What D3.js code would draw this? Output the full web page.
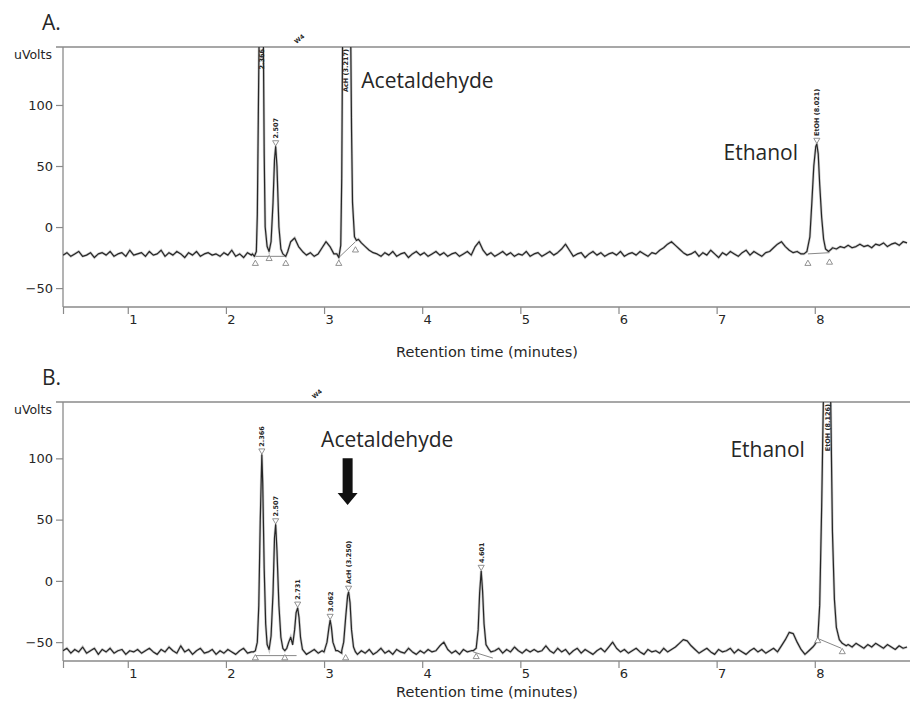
<!DOCTYPE html>
<html>
<head>
<meta charset="utf-8">
<script src="https://cdn.jsdelivr.net/npm/d3@7/dist/d3.min.js"></script>
<style>
  body { margin: 0; background: #fff; }
</style>
</head>
<body>
<svg id="chart"></svg>
<script>
// sampled detector signal: start time + step (min), values in uVolts
const T0 = 0.34
const STEP = 0.04
const X_TICKS = [1, 2, 3, 4, 5, 6, 7, 8]
const Y_TICKS = [-50, 0, 50, 100]

// ---- panel A ----
const baseA = [
  -23,-21,-24,-22,-20,-24,-23,-21,-25,-22,-21,-23,-20,-24,-22,-21,-24,-19,-23,-22,
  -21,-24,-20,-23,-22,-19,-24,-21,-23,-20,-22,-25,-21,-23,-20,-24,-22,-21,-23,-22,
  -24,-21,-23,-19,-24,-22,-25,-21,-23,-22,-22,-22,-22,-22,-22,-22,-22,-22,-12,-9,
  -16,-20,-23,-21,-24,-22,-17,-12,-16,-22,-24,-23,-23,-23,-23,-23,-13,-16,-19,-21,
  -22,-24,-21,-23,-20,-24,-22,-21,-25,-22,-20,-23,-21,-24,-22,-20,-23,-21,-24,-22,
  -21,-24,-22,-20,-23,-16,-12,-19,-23,-21,-24,-22,-20,-23,-21,-24,-22,-23,-20,-24,
  -22,-21,-24,-22,-20,-23,-21,-18,-14,-19,-24,-22,-21,-25,-22,-20,-23,-21,-24,-22,
  -21,-23,-20,-24,-22,-21,-23,-20,-22,-24,-21,-22,-19,-17,-14,-12,-15,-18,-21,-23,
  -22,-20,-24,-21,-23,-19,-22,-25,-21,-23,-20,-22,-24,-21,-19,-23,-20,-22,-24,-21,
  -20,-17,-14,-12,-16,-19,-21,-20,-22,-21,-21,-21,-21,-21,-21,-21,-17,-18,-16,-17,
  -15,-17,-16,-14,-16,-15,-17,-14,-15,-13,-16,-14,-13,-15,-12,-13
]
// peak regions, [time, uVolts]; values above the scale are cut at the frame
const peaksA = [
  [[2.27,-22],[2.29,-24],[2.31,-20],[2.32,10],[2.33,90],[2.34,170],[2.38,170],[2.39,60],[2.40,0],
   [2.42,-16],[2.44,-20],[2.46,-12],[2.48,20],[2.495,55],[2.507,66],[2.52,50],[2.54,0],[2.56,-18],
   [2.58,-22],[2.61,-24],[2.63,-20]],
  [[3.13,-22],[3.15,-25],[3.17,-15],[3.18,40],[3.19,170],[3.27,170],[3.28,80],[3.29,20],[3.31,-8],
   [3.33,-11],[3.35,-10]],
  [[7.89,-22],[7.92,-20],[7.95,-8],[7.97,20],[7.99,50],[8.01,66],[8.021,68],[8.035,60],[8.05,35],
   [8.07,8],[8.09,-10],[8.11,-18],[8.14,-20],[8.17,-18]]
]
// peak labels: time, apex value (null = off scale), text
const labelsA = [
  [2.366, null, '2.366'],
  [2.507, 66, '2.507'],
  [3.217, null, 'AcH (3.217)'],
  [8.021, 68, 'EtOH (8.021)']
]
const startEndA = [[2.30,-30],[2.44,-26],[2.61,-30],[3.15,-30],[3.32,-19],[7.93,-30],[8.15,-29]]
const baselinesA = [
  [[2.30,-24],[2.61,-24]],
  [[3.15,-25],[3.32,-12]],
  [[7.93,-22],[8.15,-21]]
]
const notesA = [['Acetaldehyde', 3.38, 114], ['Ethanol', 7.07, 55]]
const eventA = [2.72, 'W4']

// ---- panel B ----
const baseB = [
  -57,-55,-59,-56,-58,-54,-59,-57,-55,-60,-56,-58,-55,-59,-57,-56,-60,-57,-58,-56,
  -59,-57,-55,-58,-60,-56,-58,-54,-57,-59,-53,-58,-56,-60,-57,-55,-59,-58,-56,-60,
  -57,-59,-56,-58,-60,-57,-55,-59,-58,-60,-58,-58,-58,-58,-58,-58,-58,-58,-58,-58,
  -58,-57,-60,-58,-56,-59,-57,-60,-58,-58,-57,-59,-58,-58,-58,-60,-57,-59,-56,-60,
  -58,-55,-59,-57,-60,-56,-58,-59,-55,-58,-60,-57,-59,-56,-58,-57,-53,-50,-56,-59,
  -57,-60,-56,-58,-57,-58,-58,-58,-58,-58,-57,-55,-59,-56,-58,-54,-57,-59,-56,-58,
  -56,-58,-57,-53,-57,-59,-55,-58,-56,-60,-57,-55,-59,-56,-58,-60,-57,-55,-58,-54,
  -50,-55,-58,-56,-59,-57,-55,-58,-60,-56,-58,-57,-59,-55,-58,-56,-54,-51,-48,-49,
  -53,-56,-59,-57,-55,-58,-60,-56,-58,-57,-55,-59,-56,-58,-60,-57,-55,-58,-56,-59,
  -57,-55,-58,-53,-48,-42,-43,-50,-56,-60,-57,-54,-52,-52,-52,-52,-52,-52,-52,-52,
  -52,-54,-51,-53,-55,-52,-54,-51,-53,-55,-52,-54,-56,-53,-55,-54
]
const peaksB = [
  [[2.28,-58],[2.30,-57],[2.32,-50],[2.335,-20],[2.35,50],[2.366,103],[2.375,80],[2.39,10],
   [2.405,-35],[2.42,-52],[2.44,-56],[2.46,-45],[2.48,-10],[2.495,35],[2.507,46],[2.52,25],
   [2.54,-20],[2.56,-46],[2.58,-55],[2.60,-57]],
  [[2.62,-55],[2.64,-50],[2.66,-46],[2.68,-52],[2.70,-40],[2.715,-26],[2.731,-22],[2.745,-30],
   [2.76,-46],[2.78,-56]],
  [[3.00,-58],[3.03,-50],[3.05,-38],[3.062,-32],[3.075,-38],[3.09,-50],[3.12,-57]],
  [[3.18,-57],[3.20,-50],[3.22,-30],[3.24,-12],[3.25,-9],[3.265,-18],[3.28,-40],[3.30,-54],[3.32,-58]],
  [[4.52,-57],[4.55,-55],[4.57,-40],[4.585,-10],[4.601,8],[4.615,-8],[4.63,-35],[4.65,-52],
   [4.68,-56],[4.70,-58]],
  [[8.00,-52],[8.03,-48],[8.05,-20],[8.07,60],[8.09,160],[8.16,160],[8.18,40],[8.20,-15],
   [8.22,-38],[8.25,-48],[8.28,-51],[8.32,-53]]
]
const labelsB = [
  [2.366, 103, '2.366'],
  [2.507, 46, '2.507'],
  [2.731, -22, '2.731'],
  [3.062, -32, '3.062'],
  [3.250, -9, 'AcH (3.250)'],
  [4.601, 8, '4.601'],
  [8.126, null, 'EtOH (8.126)']
]
const startEndB = [[2.30,-63],[2.60,-63],[3.22,-63],[4.55,-62],[8.03,-49],[8.28,-58]]
const baselinesB = [
  [[2.30,-61],[2.72,-61]],
  [[4.52,-58],[4.72,-63]],
  [[8.03,-47],[8.27,-55]]
]
const notesB = [['Acetaldehyde', 2.97, 109], ['Ethanol', 7.14, 101]]
const arrowB = [3.24, 100, 62]
const eventB = [2.90, 'W4']

const W = 910, H = 710
const AXIS = '#8a8a8a'
const INK = '#262626'
const TICK_FONT = "'DejaVu Sans', Verdana, sans-serif"
const NOTE_FONT = "'Open Sans', 'Noto Sans', sans-serif"

const svg = d3.select('#chart').attr('width', W).attr('height', H)

const x = d3.scaleLinear().domain([0.34, 8.96]).range([63, 909])

function buildTrace(base, segs) {
  const pts = base.map((v, i) => [T0 + i * STEP, v])
    .filter(([t]) => !segs.some(s => t >= s[0][0] && t <= s[s.length - 1][0]))
  segs.forEach(s => pts.push(...s))
  return pts.sort((a, b) => a[0] - b[0])
}

function drawPanel(p) {
  const y = d3.scaleLinear().domain(p.yDomain).range([p.bottom, p.top])
  const g = svg.append('g')

  // panel letter + unit
  g.append('text').attr('x', 42).attr('y', p.top - 17)
    .attr('font-family', NOTE_FONT).attr('font-size', 21).attr('fill', INK)
    .text(p.letter)
  g.append('text').attr('x', 52).attr('y', p.top + 12).attr('text-anchor', 'end')
    .attr('font-family', TICK_FONT).attr('font-size', 12.5).attr('fill', INK)
    .text('uVolts')

  // frame lines
  g.append('line').attr('x1', 56).attr('x2', W).attr('y1', p.top).attr('y2', p.top)
    .attr('stroke', AXIS).attr('stroke-width', 1.3)
  g.append('line').attr('x1', 63).attr('x2', 63).attr('y1', p.top).attr('y2', p.bottom)
    .attr('stroke', AXIS).attr('stroke-width', 1.3)
  g.append('line').attr('x1', 63).attr('x2', W).attr('y1', p.bottom).attr('y2', p.bottom)
    .attr('stroke', AXIS).attr('stroke-width', 1.3)

  // y axis
  g.append('g').attr('transform', 'translate(63,0)')
    .call(d3.axisLeft(y).tickValues(Y_TICKS).tickSize(7).tickPadding(3))
    .call(a => a.select('.domain').remove())
    .call(a => a.selectAll('.tick line').attr('stroke', AXIS).attr('stroke-width', 1.2))
    .call(a => a.selectAll('.tick text').attr('fill', INK)
      .attr('font-family', TICK_FONT).attr('font-size', 13))

  // x axis: ticks hang below, numbers sit just right of them
  g.append('g').attr('transform', `translate(0,${p.bottom})`)
    .call(d3.axisBottom(x).tickValues([0.34, ...X_TICKS]).tickSize(7).tickPadding(1)
      .tickFormat(d => X_TICKS.includes(d) ? d : ''))
    .call(a => a.select('.domain').remove())
    .call(a => a.selectAll('.tick line').attr('stroke', AXIS).attr('stroke-width', 1.2))
    .call(a => a.selectAll('.tick text').attr('fill', INK).attr('x', 5)
      .attr('font-family', TICK_FONT).attr('font-size', 13))

  g.append('text').attr('x', 487).attr('y', p.titleY).attr('text-anchor', 'middle')
    .attr('font-family', TICK_FONT).attr('font-size', 14.5).attr('fill', INK)
    .text('Retention time (minutes)')

  // event mark at top
  g.append('text')
    .attr('transform', `translate(${x(p.event[0])},${p.top - 3}) rotate(-40)`)
    .attr('font-family', TICK_FONT).attr('font-size', 6).attr('font-weight', 'bold')
    .attr('fill', INK).text(p.event[1])

  // clip for the trace
  const clipId = 'clip' + p.letter[0]
  svg.append('clipPath').attr('id', clipId).append('rect')
    .attr('x', 63).attr('y', p.top).attr('width', W - 63).attr('height', p.bottom - p.top)

  const plot = g.append('g').attr('clip-path', `url(#${clipId})`)

  // integration baselines
  plot.selectAll('.bl').data(p.baselines).join('line')
    .attr('x1', d => x(d[0][0])).attr('y1', d => y(d[0][1]))
    .attr('x2', d => x(d[1][0])).attr('y2', d => y(d[1][1]))
    .attr('stroke', '#7a7a7a').attr('stroke-width', 0.9)

  const line = d3.line().x(d => x(d[0])).y(d => y(d[1]))
  const trace = buildTrace(p.base, p.peaks)
  plot.append('path').datum(trace).attr('d', line)
    .attr('fill', 'none').attr('stroke', '#9a9a9a').attr('stroke-width', 2.6).attr('opacity', 0.5)
  plot.append('path').datum(trace).attr('d', line)
    .attr('fill', 'none').attr('stroke', INK).attr('stroke-width', 1.2)
    .attr('stroke-linejoin', 'round')

  // peak start / end markers
  const tri = d3.symbol().type(d3.symbolTriangle).size(16)
  plot.selectAll('.se').data(p.startEnd).join('path')
    .attr('d', tri).attr('transform', d => `translate(${x(d[0])},${y(d[1])})`)
    .attr('fill', '#fff').attr('stroke', '#777').attr('stroke-width', 0.8)

  // apex markers and peak labels
  p.labels.forEach(([t, v, txt]) => {
    if (v !== null) {
      g.append('path').attr('d', tri)
        .attr('transform', `translate(${x(t)},${y(v) - 4}) rotate(180)`)
        .attr('fill', '#fff').attr('stroke', '#777').attr('stroke-width', 0.8)
      g.append('text')
        .attr('transform', `translate(${x(t) + 2.5},${y(v) - 8}) rotate(-90)`)
        .attr('font-family', TICK_FONT).attr('font-size', 6.5).attr('font-weight', 'bold')
        .attr('fill', INK).text(txt)
    } else {
      g.append('text')
        .attr('transform', `translate(${x(t) + 2.5},${p.top + 2}) rotate(-90)`)
        .attr('text-anchor', 'end')
        .attr('font-family', TICK_FONT).attr('font-size', 6.5).attr('font-weight', 'bold')
        .attr('fill', INK).text(txt)
    }
  })

  // compound names
  g.selectAll('.note').data(p.notes).join('text')
    .attr('x', d => x(d[1])).attr('y', d => y(d[2]))
    .attr('font-family', NOTE_FONT).attr('font-size', 21).attr('fill', INK)
    .text(d => d[0])

  if (p.arrow) {
    const [t, v0, v1] = p.arrow
    const cx = x(t), y0 = y(v0), y1 = y(v1)
    g.append('path')
      .attr('d', `M${cx - 5},${y0} L${cx + 5},${y0} L${cx + 5},${y1 - 12} L${cx + 10},${y1 - 12}
        L${cx},${y1} L${cx - 10},${y1 - 12} L${cx - 5},${y1 - 12} Z`)
      .attr('fill', '#111')
  }
}

drawPanel({
  letter: 'A.', top: 47, bottom: 307, titleY: 357, yDomain: [-65.5, 147.5],
  base: baseA, peaks: peaksA, labels: labelsA, startEnd: startEndA,
  baselines: baselinesA, notes: notesA, event: eventA
})
drawPanel({
  letter: 'B.', top: 402, bottom: 661, titleY: 697, yDomain: [-65.4, 146],
  base: baseB, peaks: peaksB, labels: labelsB, startEnd: startEndB,
  baselines: baselinesB, notes: notesB, event: eventB, arrow: arrowB
})
</script>
</body>
</html>
